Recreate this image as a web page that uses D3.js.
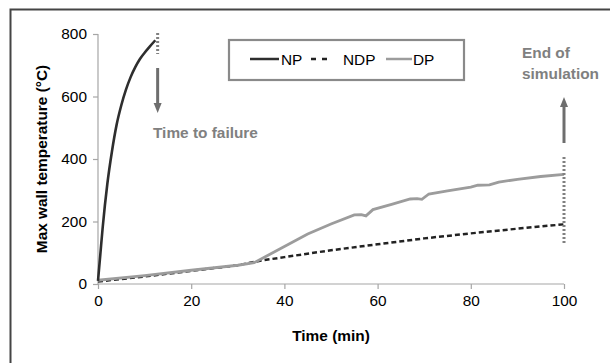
<!DOCTYPE html>
<html><head><meta charset="utf-8">
<script src="https://cdn.jsdelivr.net/npm/d3@7"></script>
<style>body{margin:0;background:#fff}svg{display:block;font-family:"Liberation Sans",Arial,sans-serif}</style>
</head><body><svg id="c" width="610" height="363"></svg>
<script>
// Data (time in min, temperature in °C)
const npTime = [0, 0.5, 1, 2, 3, 4, 5, 6, 7, 8, 9, 10, 11, 12.3];
const npTemp = [10, 95, 180, 320, 425, 510, 572, 622, 662, 694, 720, 740, 758, 780];
const ndpTime = [0, 10, 20, 30, 35, 40, 50, 60, 70, 80, 90, 100];
const ndpTemp = [8, 24, 42, 60, 75, 86, 108, 127, 146, 162, 177, 191];
const dpTime = [0, 10, 20, 30, 33.5, 36, 40, 45, 50, 55, 56.5, 57.5, 59, 63, 67, 68.5, 69.5, 71, 75, 80, 81.5, 84, 86, 90, 95, 100];
const dpTemp = [12, 27, 44, 60, 68, 88, 120, 160, 192, 221, 222, 218, 238, 255, 272, 273, 271, 288, 298, 310, 316, 317, 326, 335, 344, 351];
const xTicks = [0, 20, 40, 60, 80, 100];
const yTicks = [0, 200, 400, 600, 800];
const seriesNames = ["NP", "NDP", "DP"];
const failureTime = 12.8, endTime = 100;

const svg = d3.select("#c");
const x = d3.scaleLinear().domain([0, 100]).range([98, 564]);
const y = d3.scaleLinear().domain([0, 800]).range([284, 34]);

// outer frame (left & top only visible)
svg.append("path").attr("d", "M10.5,363 V9.5 H610").attr("fill", "none").attr("stroke", "#444").attr("stroke-width", 2);

// axes
const xAx = svg.append("g").attr("transform", "translate(0,284)")
  .call(d3.axisBottom(x).tickValues(xTicks).tickSize(5).tickPadding(6).tickFormat(d3.format("d")));
const yAx = svg.append("g").attr("transform", "translate(98,0)")
  .call(d3.axisLeft(y).tickValues(yTicks).tickSize(5).tickPadding(6).tickFormat(d3.format("d")));
[xAx, yAx].forEach(g => {
  g.selectAll("path,line").attr("stroke", "#a6a6a6").attr("stroke-width", 1.2);
  g.selectAll("text").attr("font-size", 15.4).attr("fill", "#000").attr("font-family", "Liberation Sans, Arial, sans-serif");
});
xAx.select(".domain").attr("d", "M98,0H564");
yAx.select(".domain").attr("d", "M0,284V34");

// axis titles
svg.append("text").attr("x", 331).attr("y", 341).attr("text-anchor", "middle")
  .attr("font-size", 15.4).attr("font-weight", "bold").text("Time (min)");
svg.append("text").attr("transform", "translate(47,159) rotate(-90)").attr("text-anchor", "middle")
  .attr("font-size", 15.4).attr("font-weight", "bold").text("Max wall temperature (°C)");

const line = d3.line().x(d => x(d[0])).y(d => y(d[1]));
const zip = (a, b) => a.map((v, i) => [v, b[i]]);

// series
svg.append("path").datum(zip(ndpTime, ndpTemp)).attr("d", line).attr("fill", "none")
  .attr("stroke", "#222").attr("stroke-width", 2.5).attr("stroke-dasharray", "5,3");
svg.append("path").datum(zip(dpTime, dpTemp)).attr("d", line).attr("fill", "none")
  .attr("stroke", "#9c9c9c").attr("stroke-width", 2.8);
svg.append("path").datum(zip(npTime, npTemp)).attr("d", line.curve(d3.curveMonotoneX)).attr("fill", "none")
  .attr("stroke", "#2e2e2e").attr("stroke-width", 2.6);

// annotations
const annoCol = "#808080";
function arrow(xp, y1, y2) { // shaft from y1 to tip at y2
  const dir = y2 > y1 ? 1 : -1;
  svg.append("line").attr("x1", xp).attr("x2", xp).attr("y1", y1).attr("y2", y2 - dir * 9)
    .attr("stroke", "#6e6e6e").attr("stroke-width", 3);
  svg.append("path").attr("d", `M${xp - 4},${y2 - dir * 10} L${xp + 4},${y2 - dir * 10} L${xp},${y2} Z`).attr("fill", "#6e6e6e");
}
svg.append("line").attr("x1", x(failureTime)).attr("x2", x(failureTime)).attr("y1", 33).attr("y2", 54)
  .attr("stroke", annoCol).attr("stroke-width", 3).attr("stroke-dasharray", "2,2");
arrow(x(failureTime), 68, 113);
svg.append("text").attr("x", 153).attr("y", 138).attr("font-size", 15.4).attr("font-weight", "bold")
  .attr("fill", annoCol).text("Time to failure");

svg.append("line").attr("x1", x(endTime)).attr("x2", x(endTime)).attr("y1", 157).attr("y2", 244)
  .attr("stroke", annoCol).attr("stroke-width", 3).attr("stroke-dasharray", "2,2");
arrow(x(endTime), 143, 97);
svg.append("text").attr("x", 522).attr("y", 58).attr("font-size", 15.4).attr("font-weight", "bold")
  .attr("fill", annoCol).text("End of");
svg.append("text").attr("x", 522).attr("y", 79).attr("font-size", 15.4).attr("font-weight", "bold")
  .attr("fill", annoCol).text("simulation");

// legend
const lg = svg.append("g");
lg.append("rect").attr("x", 229).attr("y", 40).attr("width", 235).attr("height", 40)
  .attr("fill", "#fff").attr("stroke", "#8a8a8a").attr("stroke-width", 2.2);
const legendItems = [
  {name: seriesNames[0], x1: 250, x2: 279, tx: 281, stroke: "#2e2e2e", dash: null},
  {name: seriesNames[1], x1: 311, x2: 327, tx: 343, stroke: "#222", dash: "5,6"},
  {name: seriesNames[2], x1: 386, x2: 412, tx: 413, stroke: "#9c9c9c", dash: null}
];
legendItems.forEach(it => {
  const l = lg.append("line").attr("x1", it.x1).attr("x2", it.x2).attr("y1", 59).attr("y2", 59)
    .attr("stroke", it.stroke).attr("stroke-width", 2.5);
  if (it.dash) l.attr("stroke-dasharray", it.dash);
  lg.append("text").attr("x", it.tx).attr("y", 64.5).attr("font-size", 15.4).attr("fill", "#000").text(it.name);
});
</script></body></html>
